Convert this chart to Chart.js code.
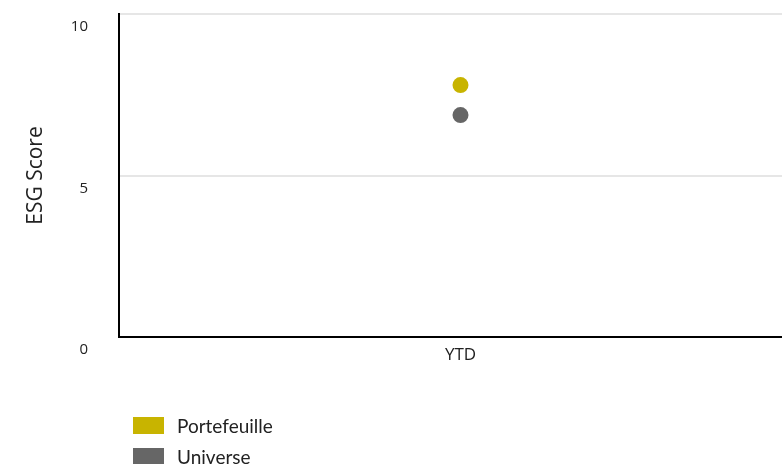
<!DOCTYPE html>
<html>
<head>
<meta charset="utf-8">
<script src="https://cdn.jsdelivr.net/npm/chart.js@4/dist/chart.umd.min.js"></script>
<style>
  body { margin: 0; overflow: hidden; background: #fff; }
  #wrap { position: relative; width: 782px; height: 464px; overflow: hidden; }
  #chart { position: absolute; left: 0; top: 0; }
  #legend { position: absolute; left: 133px; top: 417px; font-family: Lato, sans-serif; font-size: 19px; color: #222; }
  .item { display: flex; align-items: center; height: 17px; margin-bottom: 14px; }
  .box { width: 31px; height: 17px; margin-right: 13px; }
</style>
</head>
<body>
<div id="wrap">
  <canvas id="chart" width="810" height="464"></canvas>
  <div id="legend"></div>
</div>
<script>
const categories = ['YTD'];
const seriesNames = ['Portefeuille', 'Universe'];
const portefeuille = [7.8];
const universe = [6.87];
const yTicks = [0, 5, 10];
const colors = ['#c8b400', '#666666'];

const ctx = document.getElementById('chart').getContext('2d');
const chart = new Chart(ctx, {
    type: 'line',
    data: {
        labels: categories,
        datasets: [portefeuille, universe].map((values, i) => ({
            label: seriesNames[i],
            data: values,
            showLine: false,
            pointRadius: 8,
            pointHoverRadius: 8,
            pointBorderWidth: 0,
            backgroundColor: colors[i],
            borderColor: colors[i]
        }))
    },
    options: {
        responsive: false,
        animation: false,
        layout: { padding: { top: 14, right: 0, bottom: 0, left: 0 } },
        plugins: {
            legend: { display: false },
            tooltip: { enabled: false }
        },
        scales: {
            x: {
                offset: true,
                grid: { display: false, drawTicks: false },
                border: { color: '#000', width: 2 },
                ticks: { padding: 8, color: '#222', font: { family: 'Open Sans', size: 17 } },
                afterFit: scale => {
                    scale.height = 464 - 337;
                    scale.paddingLeft = 0; scale.paddingRight = 0;
                }
            },
            y: {
                min: 0,
                max: 10,
                afterBuildTicks: scale => { scale.ticks = yTicks.map(v => ({ value: v })); },
                grid: { color: '#e6e6e6', lineWidth: 2, drawTicks: false },
                border: { color: '#000', width: 2 },
                ticks: { padding: 31, labelOffset: 13, color: '#222', font: { family: 'Open Sans', size: 15 } },
                title: { display: true, text: 'ESG Score', color: '#222', font: { family: 'Open Sans', size: 21 }, padding: { top: 23, bottom: 0 } },
                afterFit: scale => {
                    scale.width = 119;
                    scale.paddingTop = 0; scale.paddingBottom = 0;
                }
            }
        }
    }
});

document.getElementById('legend').innerHTML = seriesNames.map((name, i) =>
    `<div class="item"><span class="box" style="background:${colors[i]}"></span>${name}</div>`
).join('');
</script>
</body>
</html>
